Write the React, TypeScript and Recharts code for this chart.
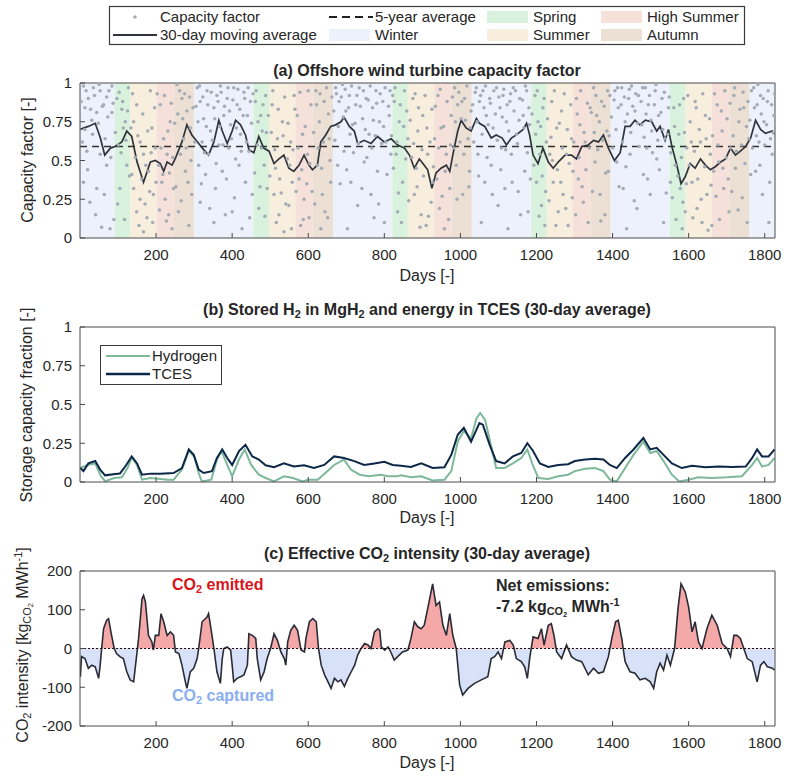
import React from "react";
import {
  ComposedChart,
  Scatter,
  Line,
  Area,
  XAxis,
  YAxis,
  ReferenceArea,
  ReferenceLine,
} from "recharts";

const FONT = '"Liberation Sans", Arial, Helvetica, sans-serif';
const INK = "#262626";
const FRAME = "#4a4a4a";

// axes
const dayTicks = [200, 400, 600, 800, 1000, 1200, 1400, 1600, 1800];
const fracTicks = [0, 0.25, 0.5, 0.75, 1];
const co2Ticks = [-200, -100, 0, 100, 200];
const dayDomain: [number, number] = [0, 1827];

// seasons, as day of year (winter wraps into the next year)
const seasonNames = ["Spring", "Summer", "High Summer", "Autumn", "Winter"];
const seasonStart = [91, 132, 201, 247, 300];
const seasonEnd = [132, 201, 247, 300, 456];
const seasonFill: Record<string, string> = {
  Winter: "#ecf1fb",
  Spring: "#d9f2de",
  Summer: "#f7eedd",
  "High Summer": "#f5e0da",
  Autumn: "#ecdfd3",
};

// (a) daily capacity factor
const cfPoints: [number, number][] = [
  [9, 0.98], [13, 0.84], [13, 0.7], [18, 0.56], [9, 0.36], [22, 0.9], [26, 0.23], [31, 0.76], [35, 0.97], [44, 0.81],
  [44, 0.32], [53, 0.95], [53, 0.54], [57, 0.07], [62, 0.86], [66, 0.64], [70, 0.91], [70, 0.47], [79, 0.06], [84, 0.81],
  [84, 0.98], [97, 0.9], [101, 0.6], [105, 0.32], [110, 0.83], [114, 0.71], [119, 0.75], [123, 0.47], [127, 0.97],
  [136, 0.41], [141, 0.75], [141, 0.32], [149, 0.86], [149, 0.17], [158, 0.62], [158, 0.25], [167, 0.54], [167, 0.04],
  [176, 0.13], [180, 0.43], [185, 0.95], [189, 0.71], [193, 0.28], [198, 0.58],
  [207, 0.47], [211, 0.86], [215, 0.36], [220, 0.64], [224, 0.25], [229, 0.54], [233, 0.15], [237, 0.75], [242, 0.06], [246, 0.32],
  [255, 0.99], [259, 0.17], [264, 0.54], [268, 0.9], [272, 0.64], [277, 0.43], [281, 0.82], [286, 0.08], [290, 0.71], [294, 0.28],
  [308, 0.97], [312, 0.47], [316, 0.88], [316, 0.23], [321, 0.62], [325, 0.77], [330, 0.41], [334, 0.95], [338, 0.54], [343, 0.69],
  [352, 0.84], [352, 0.1], [356, 0.32], [360, 0.92], [365, 0.6], [369, 0.98], [374, 0.43], [378, 0.79], [382, 0.15], [387, 0.9],
  [391, 0.58], [396, 0.73], [400, 0.17], [404, 0.97], [409, 0.51], [413, 0.86], [418, 0.47], [422, 0.67], [426, 0.06], [431, 0.94],
  [435, 0.36], [440, 0.79], [444, 0.56], [448, 0.88], [453, 0.28],
  [461, 0.88], [466, 0.6], [470, 0.19], [475, 0.79], [479, 0.69], [484, 0.47], [488, 0.92], [492, 0.32],
  [505, 0.86], [510, 0.28], [514, 0.45], [519, 0.64], [523, 0.15], [532, 0.75], [536, 0.04], [545, 0.51], [549, 0.21], [554, 0.62],
  [558, 0.36], [563, 0.92], [571, 0.79], [576, 0.38], [580, 0.08], [585, 0.67], [589, 0.25], [598, 0.54], [602, 0.13], [607, 0.86],
  [620, 0.95], [624, 0.47], [629, 0.75], [633, 0.06], [637, 0.28], [642, 0.88], [651, 0.13], [655, 0.64], [659, 0.36],
  [672, 0.97], [677, 0.47], [681, 0.88], [690, 0.99], [694, 0.56], [699, 0.82], [703, 0.06], [708, 0.92], [712, 0.36], [716, 0.73],
  [725, 0.86], [730, 0.21], [734, 0.97], [743, 0.77], [747, 0.49], [752, 0.9], [760, 0.67], [765, 0.28], [769, 0.84], [773, 0.13],
  [778, 0.95], [782, 0.43], [787, 0.75], [796, 0.88], [800, 0.1], [804, 0.62], [813, 0.79], [817, 0.54], [822, 0.92],
  [826, 0.88], [831, 0.54], [835, 0.17], [839, 0.75], [848, 0.36], [853, 0.95], [862, 0.64],
  [875, 0.9], [879, 0.28], [884, 0.45], [888, 0.69], [897, 0.15], [901, 0.79], [910, 0.08], [914, 0.54], [923, 0.23], [927, 0.36],
  [932, 0.64], [941, 0.92], [945, 0.19], [949, 0.71], [958, 0.06], [963, 0.54], [972, 0.32], [976, 0.79],
  [985, 0.97], [989, 0.47], [993, 0.86], [1002, 0.77], [1006, 0.28], [1011, 0.9], [1020, 0.64], [1024, 0.43], [1028, 0.82],
  [1042, 0.97], [1046, 0.54], [1050, 0.88], [1055, 0.1], [1059, 0.95], [1064, 0.36], [1068, 0.79], [1077, 0.9], [1081, 0.47], [1086, 0.71],
  [1095, 0.97], [1099, 0.21], [1104, 0.84], [1108, 0.58], [1112, 0.92], [1117, 0.32], [1121, 0.75], [1125, 0.06], [1130, 0.88], [1134, 0.54],
  [1139, 0.97], [1147, 0.67], [1152, 0.3], [1156, 0.9], [1165, 0.79], [1169, 0.43], [1174, 0.95], [1178, 0.17], [1182, 0.73],
  [1196, 0.92], [1200, 0.36], [1204, 0.75], [1209, 0.54], [1213, 0.21], [1217, 0.84], [1222, 0.08], [1226, 0.62],
  [1235, 0.54], [1240, 0.88], [1244, 0.36], [1253, 0.71], [1257, 0.17], [1266, 0.82], [1270, 0.28], [1279, 0.54], [1283, 0.08], [1292, 0.64],
  [1296, 0.43], [1305, 0.9], [1310, 0.38], [1314, 0.73], [1323, 0.23], [1328, 0.62], [1336, 0.1], [1341, 0.84],
  [1350, 0.97], [1354, 0.49], [1358, 0.79], [1367, 0.28], [1371, 0.88], [1380, 0.15], [1385, 0.69], [1389, 0.43], [1393, 0.92],
  [1406, 0.95], [1411, 0.49], [1415, 0.84], [1424, 0.97], [1428, 0.32], [1433, 0.75], [1437, 0.06], [1442, 0.9], [1446, 0.54], [1450, 0.98],
  [1459, 0.82], [1464, 0.19], [1468, 0.92], [1477, 0.73], [1481, 0.41], [1486, 0.97], [1490, 0.58], [1494, 0.86], [1499, 0.28], [1503, 0.69],
  [1512, 0.95], [1516, 0.51], [1521, 0.79], [1530, 0.9], [1534, 0.1], [1538, 0.64], [1547, 0.84], [1552, 0.36],
  [1561, 0.84], [1565, 0.47], [1574, 0.67], [1578, 0.32], [1583, 0.06], [1587, 0.9], [1591, 0.17], [1595, 0.58],
  [1604, 0.75], [1609, 0.36], [1617, 0.88], [1622, 0.19], [1631, 0.62], [1635, 0.1], [1644, 0.79], [1648, 0.28], [1657, 0.54], [1661, 0.08],
  [1666, 0.43], [1675, 0.86], [1679, 0.49], [1688, 0.69], [1692, 0.32], [1701, 0.77], [1706, 0.17], [1710, 0.58],
  [1719, 0.92], [1723, 0.45], [1732, 0.75], [1741, 0.26], [1745, 0.84], [1754, 0.1], [1758, 0.64], [1763, 0.41],
  [1771, 0.97], [1776, 0.43], [1780, 0.86], [1785, 0.62], [1789, 0.92], [1794, 0.28], [1798, 0.75], [1807, 0.88], [1811, 0.1], [1815, 0.64],
  [1820, 0.54], [1824, 0.79],
  // fainter / denser dots in between
  [3, 0.88], [6, 0.62], [16, 0.95], [20, 0.44], [28, 0.83], [33, 0.67], [38, 0.92], [41, 0.15], [48, 0.74], [50, 0.99],
  [59, 0.85], [64, 0.28], [73, 0.78], [76, 0.95], [81, 0.52], [87, 0.87], [89, 0.12],
  [93, 0.68], [99, 0.22], [103, 0.94], [108, 0.55], [112, 0.88], [117, 0.12], [121, 0.63], [125, 0.82], [130, 0.4],
  [134, 0.71], [138, 0.93], [145, 0.52], [152, 0.66], [155, 0.08], [162, 0.38], [165, 0.8], [171, 0.22], [173, 0.47], [178, 0.69],
  [183, 0.3], [187, 0.55], [191, 0.1], [196, 0.84], [200, 0.36],
  [203, 0.93], [209, 0.18], [213, 0.58], [218, 0.41], [222, 0.92], [227, 0.11], [231, 0.69], [235, 0.42], [240, 0.87], [244, 0.52],
  [249, 0.74], [252, 0.33], [257, 0.8], [262, 0.95], [266, 0.24], [270, 0.77], [275, 0.93], [279, 0.58], [284, 0.36], [288, 0.91],
  [292, 0.5], [297, 0.84],
  [302, 0.62], [305, 0.85], [310, 0.75], [314, 0.98], [319, 0.35], [323, 0.91], [327, 0.55], [332, 0.72], [336, 0.86], [341, 0.19],
  [345, 0.94], [348, 0.63], [354, 0.77], [358, 0.48], [363, 0.88], [367, 0.72], [371, 0.94], [376, 0.6], [380, 0.85], [385, 0.38],
  [389, 0.97], [393, 0.82], [398, 0.64], [402, 0.89], [406, 0.26], [411, 0.71], [415, 0.96], [420, 0.83], [424, 0.56], [429, 0.79],
  [433, 0.9], [438, 0.62], [442, 0.97], [446, 0.13], [451, 0.74], [455, 0.93],
  [459, 0.42], [463, 0.95], [468, 0.75], [473, 0.33], [477, 0.58], [481, 0.86], [486, 0.14], [490, 0.68], [495, 0.79],
  [499, 0.4], [503, 0.68], [507, 0.95], [512, 0.57], [516, 0.1], [521, 0.83], [525, 0.38], [529, 0.29], [534, 0.66], [538, 0.91],
  [541, 0.22], [547, 0.74], [551, 0.47], [556, 0.06], [560, 0.57], [565, 0.83],
  [568, 0.3], [573, 0.58], [578, 0.94], [583, 0.44], [587, 0.12], [592, 0.72], [596, 0.35], [600, 0.95], [604, 0.48], [610, 0.3],
  [614, 0.68], [617, 0.22], [622, 0.86], [626, 0.58], [631, 0.93], [635, 0.45], [640, 0.62], [644, 0.17], [648, 0.97], [653, 0.8],
  [657, 0.5], [662, 0.91],
  [667, 0.82], [670, 0.63], [674, 0.93], [679, 0.72], [684, 0.35], [687, 0.91], [692, 0.78], [697, 0.96], [701, 0.44], [706, 0.84],
  [710, 0.67], [714, 0.98], [719, 0.55], [723, 0.74], [728, 0.92], [732, 0.61], [737, 0.85], [741, 0.32], [745, 0.95], [750, 0.7],
  [754, 0.52], [758, 0.89], [763, 0.98], [767, 0.58], [771, 0.76], [776, 0.66], [780, 0.87], [785, 0.22], [789, 0.93], [793, 0.61],
  [798, 0.72], [802, 0.97], [807, 0.41], [811, 0.85], [815, 0.95], [819, 0.66],
  [824, 0.45], [828, 0.97], [833, 0.62], [837, 0.29], [842, 0.86], [845, 0.1], [851, 0.72], [856, 0.51], [859, 0.82],
  [864, 0.24], [868, 0.76], [872, 0.52], [877, 0.61], [881, 0.93], [886, 0.33], [890, 0.84], [894, 0.07], [899, 0.57], [903, 0.4],
  [907, 0.92], [912, 0.71], [916, 0.14], [920, 0.62], [925, 0.83], [929, 0.46],
  [934, 0.85], [938, 0.38], [943, 0.58], [947, 0.96], [952, 0.27], [956, 0.72], [960, 0.43], [965, 0.88], [969, 0.12], [974, 0.6],
  [979, 0.91], [982, 0.58], [987, 0.75], [991, 0.25], [996, 0.94], [999, 0.62], [1004, 0.88], [1009, 0.54], [1013, 0.76], [1017, 0.98],
  [1022, 0.33], [1026, 0.71],
  [1032, 0.86], [1035, 0.62], [1039, 0.94], [1044, 0.75], [1048, 0.4], [1053, 0.92], [1057, 0.67], [1062, 0.84], [1066, 0.98], [1070, 0.52],
  [1073, 0.73], [1079, 0.87], [1084, 0.28], [1088, 0.95], [1092, 0.8], [1097, 0.63], [1101, 0.91], [1106, 0.44], [1110, 0.78], [1114, 0.96],
  [1119, 0.57], [1123, 0.86], [1127, 0.69], [1132, 0.93], [1136, 0.36], [1141, 0.82], [1145, 0.95], [1150, 0.61], [1154, 0.76], [1158, 0.15],
  [1163, 0.89], [1167, 0.71], [1171, 0.98], [1176, 0.55], [1180, 0.84], [1184, 0.38],
  [1188, 0.8], [1193, 0.47], [1198, 0.67], [1202, 0.95], [1207, 0.14], [1211, 0.72], [1215, 0.4], [1220, 0.9], [1224, 0.3],
  [1229, 0.77], [1233, 0.24], [1238, 0.65], [1242, 0.5], [1247, 0.95], [1251, 0.08], [1255, 0.44], [1260, 0.74], [1264, 0.36], [1268, 0.58],
  [1273, 0.93], [1277, 0.19], [1281, 0.7], [1286, 0.48], [1290, 0.86], [1294, 0.26],
  [1298, 0.62], [1303, 0.15], [1307, 0.8], [1312, 0.52], [1316, 0.95], [1320, 0.33], [1325, 0.68], [1330, 0.44], [1334, 0.87], [1339, 0.58],
  [1344, 0.81], [1347, 0.3], [1352, 0.68], [1356, 0.92], [1361, 0.57], [1365, 0.75], [1369, 0.11], [1374, 0.63], [1378, 0.85], [1382, 0.42],
  [1387, 0.95], [1391, 0.66],
  [1397, 0.78], [1400, 0.58], [1404, 0.89], [1409, 0.7], [1413, 0.97], [1417, 0.33], [1422, 0.86], [1426, 0.62], [1431, 0.91], [1435, 0.46],
  [1439, 0.8], [1444, 0.96], [1448, 0.68], [1453, 0.85], [1457, 0.24], [1461, 0.93], [1466, 0.74], [1470, 0.59], [1475, 0.88], [1479, 0.97],
  [1483, 0.65], [1488, 0.8], [1492, 0.38], [1497, 0.92], [1501, 0.76], [1505, 0.55], [1510, 0.86], [1514, 0.99], [1519, 0.63], [1523, 0.44],
  [1527, 0.81], [1532, 0.7], [1536, 0.94], [1541, 0.29], [1545, 0.67], [1549, 0.91],
  [1553, 0.55], [1557, 0.26], [1563, 0.72], [1567, 0.12], [1572, 0.4], [1576, 0.86], [1581, 0.52], [1585, 0.23], [1589, 0.68],
  [1594, 0.35], [1598, 0.92], [1602, 0.47], [1607, 0.62], [1611, 0.13], [1615, 0.56], [1620, 0.84], [1624, 0.38], [1628, 0.7], [1633, 0.25],
  [1637, 0.93], [1642, 0.46], [1646, 0.64], [1651, 0.05], [1655, 0.77], [1659, 0.34],
  [1663, 0.66], [1668, 0.93], [1672, 0.27], [1677, 0.6], [1681, 0.12], [1686, 0.82], [1690, 0.45], [1695, 0.95], [1699, 0.52], [1704, 0.38],
  [1709, 0.87], [1713, 0.3], [1717, 0.66], [1721, 0.97], [1726, 0.56], [1730, 0.18], [1735, 0.83], [1739, 0.6], [1743, 0.94], [1748, 0.48],
  [1752, 0.72], [1756, 0.88],
  [1761, 0.76], [1765, 0.95], [1768, 0.58], [1773, 0.84], [1778, 0.66], [1782, 0.99], [1787, 0.47], [1791, 0.8], [1796, 0.9], [1800, 0.6],
  [1805, 0.73], [1809, 0.95], [1813, 0.36], [1818, 0.86], [1822, 0.68], [1826, 0.93],
];

// (a) 30-day moving average
const maPoints: [number, number][] = [
  [1, 0.7], [9, 0.71], [22, 0.72], [40, 0.74], [53, 0.65], [65, 0.535], [80, 0.58], [92, 0.59], [110, 0.62], [123, 0.69],
  [136, 0.655], [150, 0.49], [167, 0.36], [185, 0.49], [198, 0.5], [211, 0.48], [220, 0.43], [229, 0.49], [242, 0.47], [250, 0.51],
  [268, 0.62], [281, 0.73], [294, 0.665], [312, 0.61], [325, 0.57], [338, 0.535], [352, 0.62], [365, 0.76], [374, 0.69], [387, 0.61],
  [400, 0.69], [409, 0.76], [422, 0.73], [435, 0.665], [444, 0.57], [457, 0.55], [470, 0.655], [483, 0.58], [497, 0.56], [510, 0.48],
  [523, 0.51], [536, 0.535], [549, 0.45], [562, 0.43], [576, 0.47], [589, 0.535], [602, 0.47], [611, 0.44], [624, 0.47], [633, 0.62],
  [646, 0.665], [659, 0.72], [672, 0.73], [686, 0.75], [694, 0.78], [708, 0.72], [721, 0.69], [730, 0.61], [747, 0.63], [765, 0.61],
  [782, 0.655], [800, 0.62], [818, 0.64], [835, 0.6], [853, 0.58], [866, 0.535], [879, 0.45], [892, 0.51], [905, 0.47], [914, 0.44],
  [925, 0.32], [936, 0.42], [949, 0.45], [963, 0.47], [972, 0.43], [980, 0.535], [993, 0.69], [1002, 0.76], [1015, 0.71], [1028, 0.69],
  [1042, 0.77], [1050, 0.74], [1064, 0.72], [1081, 0.645], [1094, 0.665], [1110, 0.645], [1121, 0.6], [1134, 0.645], [1147, 0.665], [1165, 0.7],
  [1174, 0.74], [1182, 0.665], [1191, 0.535], [1204, 0.48], [1217, 0.58], [1231, 0.49], [1244, 0.45], [1257, 0.49], [1275, 0.535], [1292, 0.535],
  [1305, 0.51], [1319, 0.59], [1336, 0.6], [1350, 0.63], [1363, 0.62], [1376, 0.665], [1389, 0.58], [1405, 0.5], [1420, 0.55], [1433, 0.72],
  [1446, 0.72], [1459, 0.76], [1472, 0.73], [1486, 0.76], [1503, 0.75], [1516, 0.69], [1525, 0.72], [1538, 0.63], [1547, 0.7], [1556, 0.59],
  [1569, 0.47], [1580, 0.35], [1591, 0.395], [1604, 0.48], [1617, 0.45], [1631, 0.51], [1644, 0.47], [1657, 0.44], [1670, 0.46], [1684, 0.49],
  [1697, 0.51], [1710, 0.58], [1723, 0.535], [1736, 0.56], [1750, 0.59], [1763, 0.645], [1776, 0.76], [1789, 0.7], [1802, 0.675], [1820, 0.69],
  [1826, 0.67],
];
const cfAverage = 0.59;

// (b) stored fractions, 30-day average
const h2Points: [number, number][] = [
  [1, 0.09], [20, 0.11], [40, 0.12], [55, 0.037], [66, 0.005], [90, 0.026], [110, 0.03], [125, 0.09], [136, 0.16], [150, 0.11],
  [163, 0.015], [185, 0.026], [211, 0.02], [230, 0.015], [246, 0.015], [268, 0.08], [286, 0.2], [300, 0.165], [312, 0.058], [320, 0.004],
  [345, 0.015], [360, 0.145], [372, 0.2], [387, 0.11], [400, 0.037], [418, 0.145], [433, 0.21], [450, 0.11], [470, 0.047], [488, 0.026],
  [510, 0.004], [536, 0.037], [560, 0.026], [585, 0.004], [600, 0.015], [625, 0.015], [650, 0.07], [668, 0.11], [694, 0.145], [712, 0.08],
  [735, 0.047], [760, 0.037], [790, 0.047], [810, 0.037], [835, 0.037], [844, 0.043], [870, 0.03], [897, 0.037], [927, 0.01], [958, 0.015],
  [976, 0.07], [993, 0.26], [1009, 0.33], [1028, 0.28], [1042, 0.41], [1052, 0.445], [1065, 0.4], [1080, 0.24], [1094, 0.09], [1116, 0.09],
  [1138, 0.12], [1160, 0.155], [1176, 0.21], [1190, 0.11], [1205, 0.026], [1231, 0.02], [1257, 0.037], [1283, 0.047], [1301, 0.07], [1328, 0.086],
  [1354, 0.09], [1376, 0.07], [1393, 0.015], [1411, 0.004], [1433, 0.09], [1455, 0.175], [1481, 0.26], [1499, 0.187], [1516, 0.2], [1534, 0.135],
  [1556, 0.047], [1575, 0.004], [1600, 0.015], [1625, 0.03], [1660, 0.026], [1700, 0.03], [1740, 0.037], [1767, 0.11], [1780, 0.155], [1793, 0.1],
  [1810, 0.11], [1826, 0.155],
];
const tcesPoints: [number, number][] = [
  [1, 0.09], [9, 0.07], [22, 0.12], [40, 0.135], [53, 0.08], [66, 0.043], [88, 0.05], [105, 0.055], [119, 0.1], [136, 0.165],
  [150, 0.12], [163, 0.047], [185, 0.054], [211, 0.054], [246, 0.058], [268, 0.09], [286, 0.21], [299, 0.175], [312, 0.08], [325, 0.058],
  [347, 0.07], [360, 0.155], [374, 0.21], [387, 0.155], [400, 0.11], [418, 0.2], [435, 0.24], [453, 0.165], [470, 0.145], [488, 0.108],
  [510, 0.095], [536, 0.12], [562, 0.1], [589, 0.108], [615, 0.09], [642, 0.11], [668, 0.165], [694, 0.155], [721, 0.135], [747, 0.11],
  [774, 0.12], [800, 0.13], [822, 0.11], [844, 0.105], [870, 0.097], [897, 0.12], [927, 0.09], [958, 0.095], [976, 0.175], [993, 0.305],
  [1009, 0.35], [1028, 0.26], [1050, 0.38], [1059, 0.37], [1077, 0.24], [1094, 0.135], [1116, 0.12], [1138, 0.165], [1160, 0.187], [1176, 0.25],
  [1191, 0.2], [1209, 0.12], [1231, 0.097], [1257, 0.11], [1283, 0.115], [1301, 0.135], [1328, 0.145], [1354, 0.15], [1376, 0.145], [1393, 0.11],
  [1411, 0.09], [1433, 0.155], [1455, 0.21], [1481, 0.284], [1499, 0.21], [1516, 0.22], [1534, 0.175], [1556, 0.12], [1582, 0.09], [1609, 0.105],
  [1644, 0.095], [1679, 0.1], [1714, 0.097], [1750, 0.1], [1767, 0.155], [1780, 0.21], [1793, 0.165], [1810, 0.165], [1826, 0.21],
];

// (c) effective CO2 intensity, kgCO2/MWh
const co2Points: [number, number][] = [
  [1, -73], [4, -21], [13, -26], [22, -51], [31, -43], [40, -47], [49, -77], [53, -43], [57, 0], [62, 51],
  [70, 73], [75, 77], [83, 34], [90, 0], [96, -13], [105, -21], [114, -26], [123, -60], [132, -81], [141, -86],
  [150, -9], [154, 26], [163, 128], [167, 137], [172, 120], [180, 34], [189, 17], [193, -4], [198, 34], [207, 34],
  [213, 90], [220, 69], [229, 34], [238, 43], [246, 34], [251, -9], [260, -13], [268, -43], [277, -86], [281, -103],
  [290, -60], [299, -51], [308, -26], [312, 0], [321, 69], [334, 81], [338, 90], [347, 34], [352, 0], [360, -60],
  [369, -90], [374, -26], [378, 0], [387, 4], [396, -4], [400, -43], [404, -86], [413, -77], [422, -73], [431, -68],
  [440, -43], [444, 38], [453, 34], [462, 26], [466, -26], [475, -81], [484, -60], [492, -26], [501, 0], [510, 38],
  [519, 21], [528, -9], [537, -26], [541, -43], [546, 17], [554, 47], [563, 60], [572, 47], [581, -4], [590, -9],
  [594, 26], [603, 69], [612, 77], [621, 69], [627, 0], [634, -43], [643, -68], [652, -86], [660, -103], [669, -77],
  [678, -86], [686, -81], [695, -98], [704, -77], [713, -60], [722, -43], [730, -17], [739, 0], [748, 13], [757, 9],
  [765, 0], [774, 43], [783, 51], [788, 47], [792, 4], [801, -4], [810, 4], [817, -9], [826, -30], [835, -21],
  [848, -9], [862, -4], [870, 26], [879, 69], [888, 56], [897, 51], [905, 60], [914, 103], [927, 167], [936, 111],
  [945, 120], [954, 60], [963, 34], [972, 90], [980, 34], [989, 0], [998, -94], [1006, -120], [1020, -103], [1037, -90],
  [1055, -81], [1072, -73], [1081, -26], [1090, -21], [1099, -9], [1108, -26], [1117, 17], [1130, 21], [1139, 9], [1147, -26],
  [1160, -34], [1169, -47], [1176, -77], [1182, -26], [1191, 30], [1204, 26], [1213, 51], [1220, 9], [1231, 60], [1239, 64],
  [1246, 34], [1253, -9], [1266, -26], [1279, 9], [1292, -21], [1305, -30], [1319, -34], [1336, -68], [1350, -51], [1363, -64],
  [1376, -60], [1389, -21], [1398, 26], [1408, 69], [1415, 73], [1424, 26], [1433, -34], [1446, -60], [1459, -64], [1472, -81],
  [1486, -77], [1499, -86], [1508, -103], [1516, -60], [1525, -38], [1534, -56], [1543, -17], [1552, -43], [1563, 0], [1572, 103],
  [1580, 167], [1591, 146], [1600, 107], [1609, 43], [1617, 69], [1626, 17], [1635, 0], [1648, 51], [1661, 86], [1675, 60],
  [1688, 13], [1701, 0], [1710, -21], [1719, 34], [1727, 34], [1736, 26], [1745, 0], [1754, -26], [1767, -34], [1780, -86],
  [1789, -43], [1798, -34], [1807, -47], [1820, -51], [1826, -56],
];

const toRows = (pts: [number, number][]) => pts.map(([day, v]) => ({ day, v }));

// season bands across the five years
const bands: { x1: number; x2: number; name: string }[] = [{ x1: 0, x2: 91, name: "Winter" }];
for (let y = 0; y < 5; y++) {
  seasonNames.forEach((name, i) => {
    const x1 = seasonStart[i] + 365 * y;
    const x2 = Math.min(seasonEnd[i] + 365 * y, dayDomain[1]);
    if (x1 < dayDomain[1]) bands.push({ x1, x2, name });
  });
}

const bottomTick = (p: any) => (
  <g>
    <line x1={p.x} y1={p.y} x2={p.x} y2={p.y - 5} stroke={FRAME} />
    <text x={p.x} y={p.y + 22} textAnchor="middle" fontSize={15} fill={INK} fontFamily={FONT}>
      {p.payload.value}
    </text>
  </g>
);

const leftTick = (p: any) => (
  <g>
    <line x1={p.x} y1={p.y} x2={p.x + 5} y2={p.y} stroke={FRAME} />
    <text x={p.x - 8} y={p.y} dy="0.36em" textAnchor="end" fontSize={15} fill={INK} fontFamily={FONT}>
      {p.payload.value}
    </text>
  </g>
);

function frame(yTicks: number[], yDomain: [number, number]) {
  return [
    <XAxis key="xb" dataKey="day" type="number" domain={dayDomain} ticks={dayTicks} allowDataOverflow
      tick={bottomTick} tickLine={false} tickSize={0} tickMargin={0} height={30} stroke={FRAME} />,
    <XAxis key="xt" xAxisId="top" orientation="top" type="number" domain={dayDomain} ticks={dayTicks} allowDataOverflow
      mirror tick={false} tickSize={5} stroke={FRAME} />,
    <YAxis key="yl" type="number" domain={yDomain} ticks={yTicks} allowDataOverflow
      tick={leftTick} tickLine={false} tickSize={0} tickMargin={0} width={50} stroke={FRAME} />,
    <YAxis key="yr" yAxisId="right" orientation="right" type="number" domain={yDomain} ticks={yTicks} allowDataOverflow
      mirror tick={false} tickSize={5} stroke={FRAME} />,
  ];
}

const Sub = ({ children }: { children: React.ReactNode }) => (
  <span style={{ fontSize: "0.68em", verticalAlign: "-0.28em" }}>{children}</span>
);
const Sup = ({ children }: { children: React.ReactNode }) => (
  <span style={{ fontSize: "0.68em", verticalAlign: "0.55em" }}>{children}</span>
);

function Label({ x, y, children, size = 16, bold = false, color = INK, rotate = false, anchor = "middle" }: any) {
  const tx = anchor === "middle" ? "-50%" : "0";
  return (
    <div
      style={{
        position: "absolute",
        left: x,
        top: y,
        transform: rotate ? "translate(-50%,-50%) rotate(-90deg)" : `translate(${tx},-50%)`,
        whiteSpace: "nowrap",
        fontSize: size,
        fontWeight: bold ? 700 : 400,
        color,
        lineHeight: 1,
      }}
    >
      {children}
    </div>
  );
}

const CHART_H = 200;
const MARGIN = { top: 10, right: 11, bottom: 5, left: 30 };

function PanelA() {
  return (
    <div style={{ position: "absolute", left: 0, top: 73 }}>
      <ComposedChart width={786} height={CHART_H} margin={MARGIN}>
        {bands.map((b, i) => (
          <ReferenceArea key={i} x1={b.x1} x2={b.x2} fill={seasonFill[b.name]} fillOpacity={1} stroke="none" ifOverflow="hidden" />
        ))}
        {frame(fracTicks, [0, 1])}
        <Scatter
          data={toRows(cfPoints)}
          dataKey="v"
          isAnimationActive={false}
          shape={(p: any) => <circle cx={p.cx} cy={p.cy} r={1.75} fill="#a3abb5" />}
        />
        <ReferenceLine y={cfAverage} stroke="#333" strokeDasharray="7 5" strokeWidth={1.5} />
        <Line data={toRows(maPoints)} dataKey="v" type="linear" stroke="#2f333c" strokeWidth={1.7} dot={false} isAnimationActive={false} />
      </ComposedChart>
    </div>
  );
}

function PanelB() {
  return (
    <div style={{ position: "absolute", left: 0, top: 317 }}>
      <ComposedChart width={786} height={CHART_H} margin={MARGIN}>
        {frame(fracTicks, [0, 1])}
        <Line data={toRows(h2Points)} dataKey="v" type="linear" stroke="#7db89b" strokeWidth={2} dot={false} isAnimationActive={false} />
        <Line data={toRows(tcesPoints)} dataKey="v" type="linear" stroke="#0c2748" strokeWidth={2} dot={false} isAnimationActive={false} />
      </ComposedChart>
    </div>
  );
}

function PanelC() {
  const vals = co2Points.map((p) => p[1]);
  const hi = Math.max(...vals);
  const lo = Math.min(...vals);
  const off = hi / (hi - lo);
  return (
    <div style={{ position: "absolute", left: 0, top: 561 }}>
      <ComposedChart width={786} height={CHART_H} margin={MARGIN}>
        <defs>
          <linearGradient id="co2Split" x1="0" y1="0" x2="0" y2="1">
            <stop offset={off} stopColor="#f4a8a8" />
            <stop offset={off} stopColor="#d7e2f9" />
          </linearGradient>
        </defs>
        {frame(co2Ticks, [-200, 200])}
        <Area
          data={toRows(co2Points)}
          dataKey="v"
          type="linear"
          baseValue={0}
          stroke="#2a2b36"
          strokeWidth={1.6}
          fill="url(#co2Split)"
          fillOpacity={1}
          isAnimationActive={false}
        />
        <ReferenceLine y={0} stroke="#111" strokeDasharray="2 2" strokeWidth={1} />
      </ComposedChart>
    </div>
  );
}

function TopLegend() {
  const sw = (x: number, y: number, name: string) => (
    <rect x={x} y={y} width={41} height={12} fill={seasonFill[name]} />
  );
  const t = (x: number, y: number, s: string) => (
    <text x={x} y={y} dy="0.36em" fontSize={15} fill={INK} fontFamily={FONT}>{s}</text>
  );
  return (
    <svg width={786} height={50} style={{ position: "absolute", left: 0, top: 0 }}>
      <rect x={109.5} y={6.5} width={635} height={38} fill="#fff" stroke="#3a3a3a" strokeWidth={1.2} />
      <circle cx={135} cy={17} r={1.75} fill="#a3abb5" />
      <line x1={113} y1={35} x2={157} y2={35} stroke="#2f333c" strokeWidth={2} />
      {t(160, 17, "Capacity factor")}
      {t(160, 35, "30-day moving average")}
      <line x1={329} y1={17} x2={373} y2={17} stroke="#222" strokeWidth={2} strokeDasharray="8 5" />
      {t(375, 17, "5-year average")}
      {sw(329, 29, "Winter")}
      {t(375, 35, "Winter")}
      {sw(487, 11, "Spring")}
      {t(533, 17, "Spring")}
      {sw(487, 29, "Summer")}
      {t(533, 35, "Summer")}
      {sw(601, 11, "High Summer")}
      {t(647, 17, "High Summer")}
      {sw(601, 29, "Autumn")}
      {t(647, 35, "Autumn")}
    </svg>
  );
}

function StorageLegend() {
  return (
    <svg width={786} height={60} style={{ position: "absolute", left: 0, top: 335 }}>
      <rect x={100.5} y={10.5} width={121} height={39} fill="#fff" stroke="#3a3a3a" strokeWidth={1} />
      <line x1={106} y1={21} x2={150} y2={21} stroke="#7db89b" strokeWidth={2} />
      <line x1={106} y1={39} x2={150} y2={39} stroke="#0c2748" strokeWidth={2.5} />
      <text x={152} y={21} dy="0.36em" fontSize={15} fill={INK} fontFamily={FONT}>Hydrogen</text>
      <text x={152} y={39} dy="0.36em" fontSize={15} fill={INK} fontFamily={FONT}>TCES</text>
    </svg>
  );
}

export default function App() {
  return (
    <div
      style={{
        position: "absolute",
        left: 0,
        top: 0,
        width: 786,
        height: 777,
        background: "#fff",
        fontFamily: FONT,
        color: INK,
        overflow: "hidden",
      }}
    >
      <TopLegend />
      <PanelA />
      <PanelB />
      <PanelC />
      <StorageLegend />

      <Label x={427} y={71} bold>(a) Offshore wind turbine capacity factor</Label>
      <Label x={427} y={311} bold>
        (b) Stored H<Sub>2</Sub> in MgH<Sub>2</Sub> and energy in TCES (30-day average)
      </Label>
      <Label x={427} y={555} bold>
        (c) Effective CO<Sub>2</Sub> intensity (30-day average)
      </Label>

      <Label x={427} y={276}>Days [-]</Label>
      <Label x={427} y={518}>Days [-]</Label>
      <Label x={427} y={763}>Days [-]</Label>

      <Label x={28} y={160} rotate>Capacity factor [-]</Label>
      <Label x={27} y={405} rotate>Storage capacity fraction [-]</Label>
      <Label x={24} y={645} rotate>
        CO<Sub>2</Sub> intensity [kg<Sub>CO<Sub>2</Sub></Sub> MWh<Sup>-1</Sup>]
      </Label>

      <Label x={172} y={586} bold color="#d8141c" anchor="start">
        CO<Sub>2</Sub> emitted
      </Label>
      <Label x={172} y={697} bold color="#8aaef0" anchor="start">
        CO<Sub>2</Sub> captured
      </Label>
      <Label x={496} y={586} bold anchor="start">Net emissions:</Label>
      <Label x={496} y={608} bold anchor="start">
        -7.2 kg<Sub>CO<Sub>2</Sub></Sub> MWh<Sup>-1</Sup>
      </Label>
    </div>
  );
}
